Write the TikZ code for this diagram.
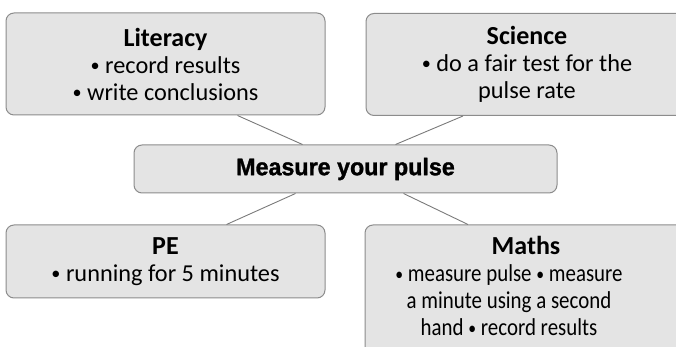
\documentclass[tikz,border=0pt]{standalone}
\usepackage{fontspec}
\setmainfont{Carlito}
\newfontfamily\hubfont[FakeStretch=0.97,
    BoldFeatures={FakeStretch=0.97,FakeBold=1.3}]{Liberation Sans}
\newfontfamily\narrowfont[FakeStretch=0.86]{Carlito}
\usepackage{tikz}
\definecolor{boxfill}{HTML}{E4E4E4}
\definecolor{boxline}{HTML}{8C8C8C}
\definecolor{linkgray}{HTML}{7A7A7A}
\newcommand{\subj}[1]{{\fontsize{26}{27}\selectfont\bfseries #1}}
\newcommand{\bul}{\raisebox{0.15ex}{\scalebox{0.75}{•}}}

\begin{document}
\begin{tikzpicture}[
    x=1pt, y=1pt,
    every node/.style={font=\fontsize{24.3}{27}\selectfont},
    topic/.style={
        draw=boxline, fill=boxfill,
        rounded corners=8pt,
        line width=1pt,
        align=center,
        inner sep=0pt
    },
    hub/.style={
        topic,
        font=\hubfont\bfseries\fontsize{24}{27}\selectfont
    },
    link/.style={draw=linkgray, line width=0.9pt}
]

%% ── Page frame ────────────────────────────────────────
\useasboundingbox (0,0) rectangle (676,347);
\clip (0,0) rectangle (676,347);

%% ── Subject boxes ─────────────────────────────────────
\node[topic, minimum width=319pt, minimum height=102pt] (lit) at (165.5,283)
    {\subj{Literacy}\\\bul\ record results\\\bul\ write conclusions};
\node[topic, minimum width=322pt, minimum height=102pt] (sci) at (527,282.5)
    {\subj{Science}\\\bul\ do a fair test for the\\pulse rate};
\node[topic, minimum width=319pt, minimum height=73pt] (pe) at (165.5,85.5)
    {\subj{PE}\\\bul\ running for 5 minutes};
\node[topic, minimum width=324pt, minimum height=130pt] (maths) at (527,57)
    {\begin{tabular}{@{}c@{}}\hspace*{34pt}\subj{Maths}\\
     \narrowfont\bul\ measure pulse \bul\ measure\\
     \narrowfont a minute using a second\\
     \narrowfont hand \bul\ record results\end{tabular}\hspace*{36pt}};

%% ── Central topic ─────────────────────────────────────
\node[hub, minimum width=423pt, minimum height=48pt] (hub) at (345.5,178)
    {Measure your pulse};

%% ── Links to the centre ───────────────────────────────
\draw[link] ([xshift=72pt]lit.south) -- ([xshift=-43pt]hub.north);
\draw[link] ([xshift=-64pt]sci.south) -- ([xshift=50pt]hub.north);
\draw[link] ([xshift=61pt]pe.north) -- ([xshift=-50pt]hub.south);
\draw[link] ([xshift=58pt]hub.south) -- ([xshift=-59pt]maths.north);

\end{tikzpicture}
\end{document}
